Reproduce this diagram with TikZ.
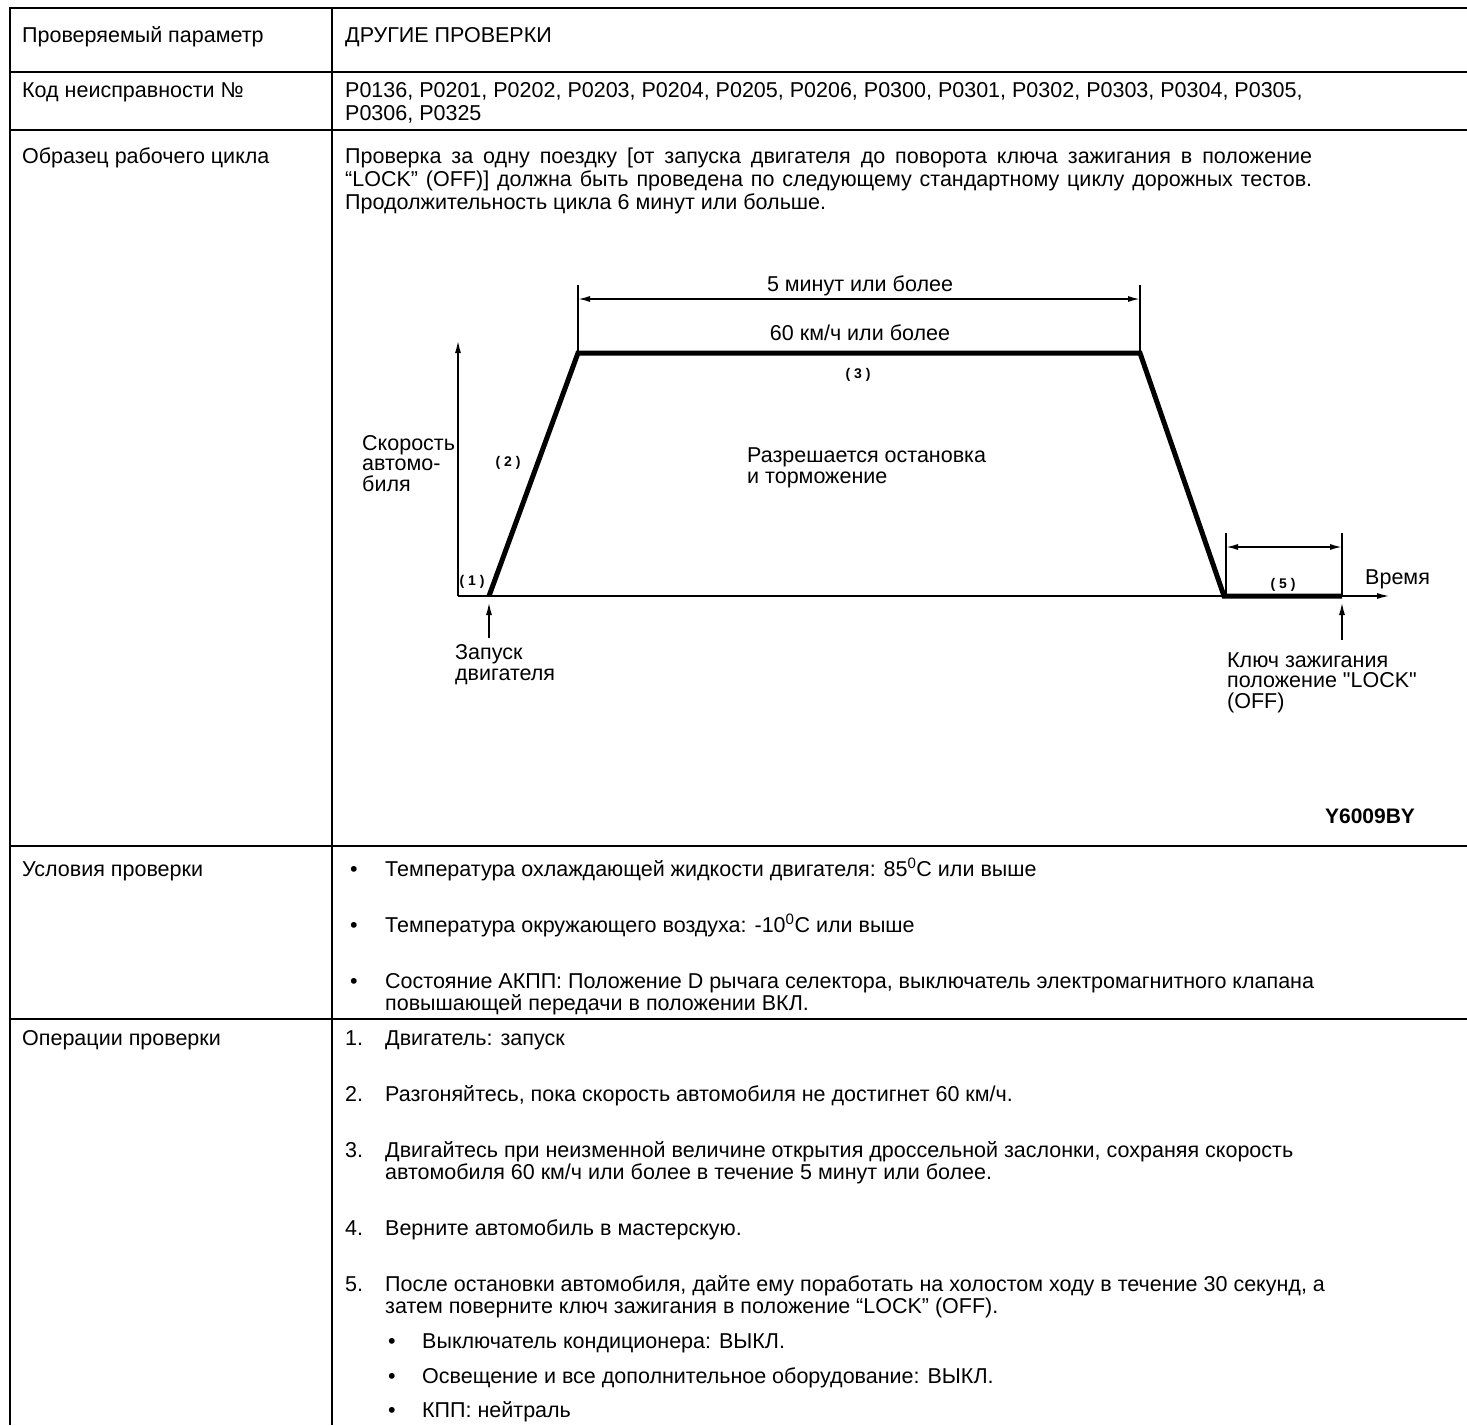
\documentclass[tikz,border=0pt]{standalone}
\usepackage{fontspec}
\setmainfont{Liberation Sans}
% chart labels keep straight quotes, so no TeX ligature mapping here
\newfontfamily\chartfont{Liberation Sans}
\usetikzlibrary{arrows.meta}
\begin{document}
\begin{tikzpicture}[x=1pt,y=-1pt,
  txt/.style={anchor=base west, inner sep=0pt, font=\fontsize{21.5}{24}\selectfont},
  ctxt/.style={anchor=base, inner sep=0pt, font=\chartfont\fontsize{21.5}{24}\selectfont},
  % multi-line chart labels are placed by the baseline of their last line
  lbl/.style={anchor=base west, inner sep=0pt, align=left,
    font=\chartfont\fontsize{21.5}{20.5}\selectfont},
  grid/.style={line width=2.8pt},
  axis/.style={line width=1.8pt},
  prof/.style={line width=5pt, line join=miter},
  dim/.style={line width=1.6pt},
  tipup/.style={line width=1.8pt, -{Latex[length=13pt,width=6pt]}},
  dimarr/.style={line width=1.6pt, {Latex[length=12pt,width=6pt]}-{Latex[length=12pt,width=6pt]}},
  seg/.style={inner sep=1pt, font=\fontsize{14}{14}\bfseries\selectfont}
]
\useasboundingbox (0,0) rectangle (1467,1425);

% table grid
\draw[grid] (10,8) -- (1467,8);
\draw[grid] (10,72) -- (1467,72);
\draw[grid] (10,130) -- (1467,130);
\draw[grid] (10,846) -- (1467,846);
\draw[grid] (10,1019) -- (1467,1019);
\draw[grid] (10,6.6) -- (10,1425);
\draw[grid] (332,8) -- (332,1425);

% row 1
\node (h1) [txt] at (22,42) {Проверяемый параметр};
\node (v1) [txt] at (345,42) {ДРУГИЕ ПРОВЕРКИ};
% row 2
\node (h2) [txt] at (22,97) {Код неисправности №};
\node (v2a) [txt] at (345,97) {P0136, P0201, P0202, P0203, P0204, P0205, P0206, P0300, P0301, P0302, P0303, P0304, P0305,};
\node (v2b) [txt] at (345,120) {P0306, P0325};
% row 3
\node (h3) [txt] at (22,163) {Образец рабочего цикла};
\node (v3a) [txt] at (345,163) {\makebox[967pt][s]{Проверка за одну поездку [от запуска двигателя до поворота ключа зажигания в положение}};
\node (v3b) [txt] at (345,186) {\makebox[967pt][s]{“LOCK” (OFF)] должна быть проведена по следующему стандартному циклу дорожных тестов.}};
\node (v3c) [txt] at (345,209) {Продолжительность цикла 6 минут или больше.};

% drive cycle chart
\coordinate (o) at (458,596);
\coordinate (ytop) at (458,340);
\coordinate (xend) at (1390,596);
\coordinate (s) at (489,596);
\coordinate (p1) at (578,353);
\coordinate (p2) at (1140,353);
\coordinate (e) at (1224,596);
\coordinate (k) at (1342,596);
\draw[axis, -{Latex[length=13pt,width=6pt]}] (o) -- (ytop);
\draw[axis, -{Latex[length=13pt,width=6pt]}] (o) -- (xend);
\draw[prof] (s) -- (p1) -- (p2) -- (e) -- (k);

% 5 min dimension
\coordinate (t1) at (578,285);
\coordinate (t2) at (1140,285);
\draw[dim] (t1) -- (p1);
\draw[dim] (t2) -- (p2);
\coordinate (d1) at (578,299);
\coordinate (d2) at (1140,299);
\draw[dimarr] (d1) -- (d2);
\node (l5min) [ctxt] at (860,291) {5 минут или более};
\node (l60) [ctxt] at (860,340) {60 км/ч или более};
\node (n3) [seg] at (858,375) {( 3 )};
\node (n2) [seg] at (508,463) {( 2 )};
\node (n1) [seg] at (472,582) {( 1 )};

% idle dimension
\coordinate (u1) at (1226,533);
\coordinate (u2) at (1342,533);
\coordinate (w1) at (1226,596);
\coordinate (w2) at (1342,596);
\draw[dim] (u1) -- (w1);
\draw[dim] (u2) -- (w2);
\coordinate (q1) at (1226,547);
\coordinate (q2) at (1342,547);
\draw[dimarr] (q1) -- (q2);
\node (n5) [seg] at (1283,585) {( 5 )};
\node (ltime) [ctxt, anchor=base west] at (1365,584) {Время};

% event markers
\coordinate (sa) at (489,638);
\coordinate (sb) at (489,602);
\draw[tipup] (sa) -- (sb);
\coordinate (ka) at (1342,640);
\coordinate (kb) at (1342,602);
\draw[tipup] (ka) -- (kb);
\node (lstart) [lbl] at (455,680) {Запуск\\двигателя};
\node (lkey) [lbl] at (1227,708) {Ключ зажигания\\положение "LOCK"\\(OFF)};
\node (lspeed) [lbl] at (362,491) {Скорость\\автомо-\\биля};
\node (lstop) [lbl] at (747,483) {Разрешается остановка\\и торможение};
\node (fig) [anchor=base, inner sep=0pt, font=\fontsize{21}{22}\bfseries\selectfont] at (1370,823) {Y6009BY};

% row 4
\node (h4) [txt] at (22,876) {Условия проверки};
\node (b41) [txt] at (350,876) {•};
\node (c41) [txt] at (385,876) {Температура охлаждающей жидкости двигателя: 85\textsuperscript{0}C или выше};
\node (b42) [txt] at (350,932) {•};
\node (c42) [txt] at (385,932) {Температура окружающего воздуха: -10\textsuperscript{0}C или выше};
\node (b43) [txt] at (350,988) {•};
\node (c43a) [txt] at (385,988) {Состояние АКПП: Положение D рычага селектора, выключатель электромагнитного клапана};
\node (c43b) [txt] at (385,1010) {повышающей передачи в положении ВКЛ.};

% row 5
\node (h5) [txt] at (22,1045) {Операции проверки};
\node (m1) [txt] at (345,1045) {1.};
\node (o1) [txt] at (385,1045) {Двигатель: запуск};
\node (m2) [txt] at (345,1101) {2.};
\node (o2) [txt] at (385,1101) {Разгоняйтесь, пока скорость автомобиля не достигнет 60 км/ч.};
\node (m3) [txt] at (345,1157) {3.};
\node (o3a) [txt] at (385,1157) {Двигайтесь при неизменной величине открытия дроссельной заслонки, сохраняя скорость};
\node (o3b) [txt] at (385,1179) {автомобиля 60 км/ч или более в течение 5 минут или более.};
\node (m4) [txt] at (345,1235) {4.};
\node (o4) [txt] at (385,1235) {Верните автомобиль в мастерскую.};
\node (m5) [txt] at (345,1291) {5.};
\node (o5a) [txt] at (385,1291) {После остановки автомобиля, дайте ему поработать на холостом ходу в течение 30 секунд, а};
\node (o5b) [txt] at (385,1313) {затем поверните ключ зажигания в положение “LOCK” (OFF).};
\node (sb1) [txt] at (388,1348) {•};
\node (st1) [txt] at (422,1348) {Выключатель кондиционера: ВЫКЛ.};
\node (sb2) [txt] at (388,1383) {•};
\node (st2) [txt] at (422,1383) {Освещение и все дополнительное оборудование: ВЫКЛ.};
\node (sb3) [txt] at (388,1417) {•};
\node (st3) [txt] at (422,1417) {КПП: нейтраль};
\end{tikzpicture}
\end{document}
